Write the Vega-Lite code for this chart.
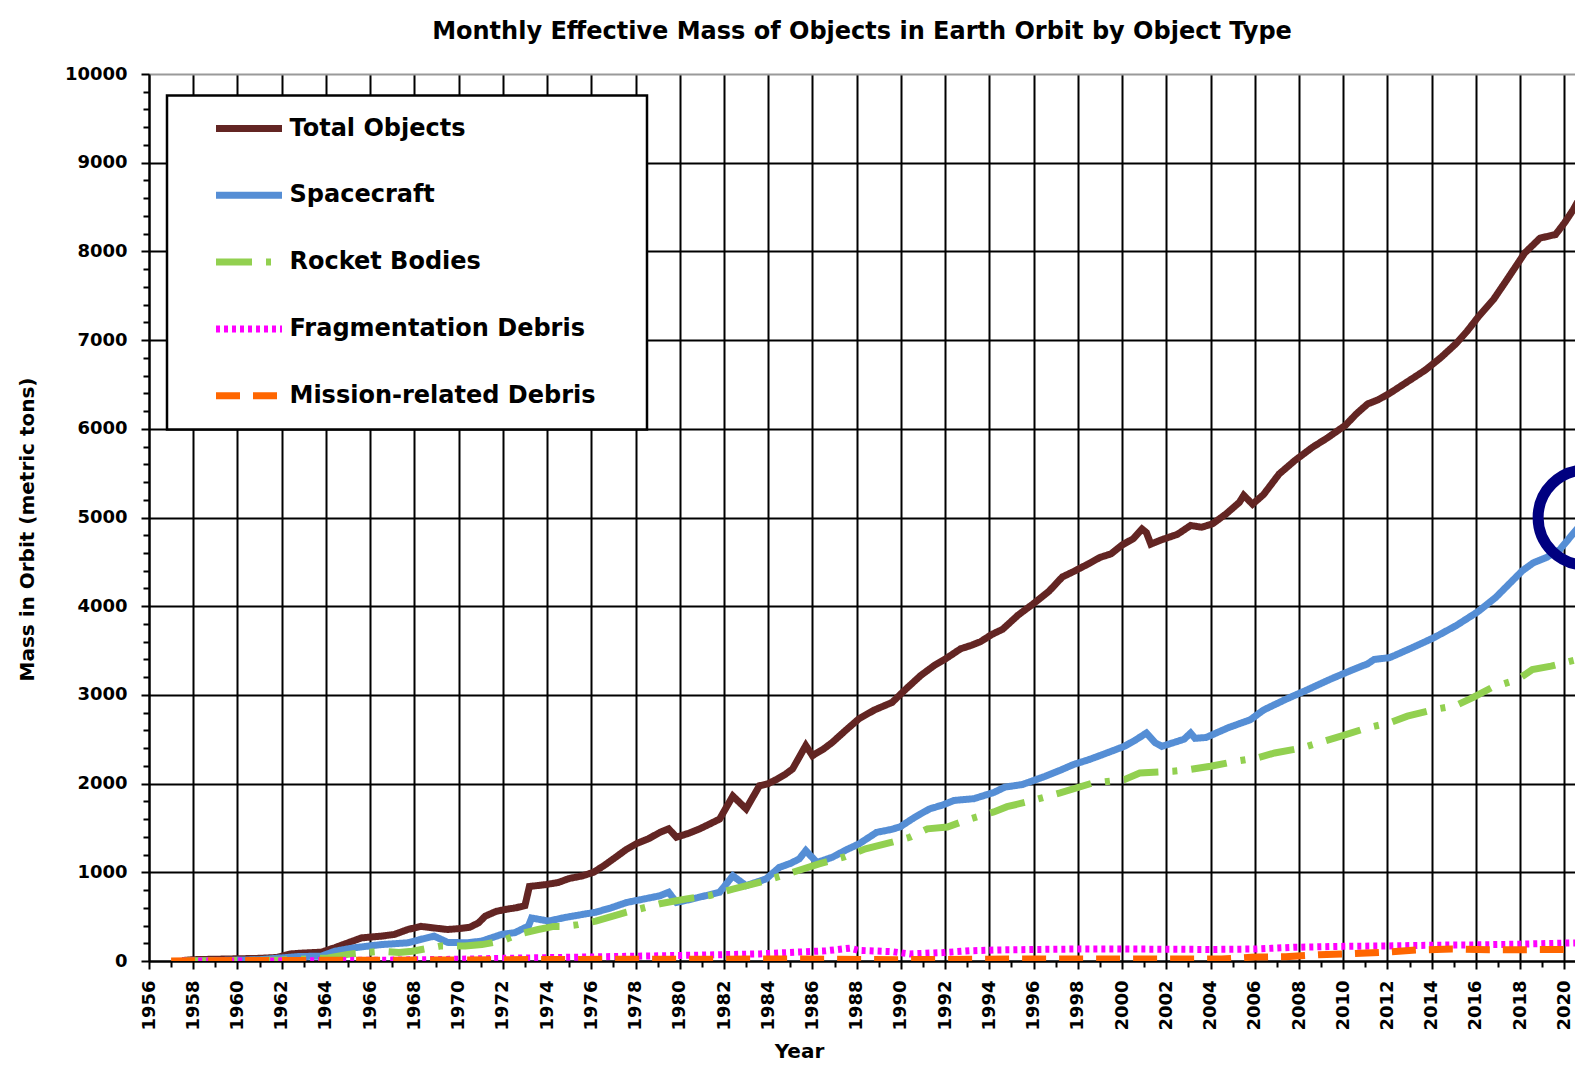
{
  "$schema": "https://vega.github.io/schema/vega-lite/v6.json",
  "width": 1426,
  "height": 887,
  "autosize": {"type": "none"},
  "padding": {"left": 149, "top": 74, "right": 0, "bottom": 113},
  "background": "white",
  "title": {
    "text": "Monthly Effective Mass of Objects in Earth Orbit by Object Type",
    "font": "DejaVu Sans", "fontSize": 24, "fontWeight": "bold", "color": "#000",
    "anchor": "middle", "frame": "group", "baseline": "alphabetic", "offset": 2
  },
  "config": {"view": {"stroke": null}, "font": "DejaVu Sans", "legend": {"strokeWidth": 2.5}},
  "layer": [
    {
      "data": {"values": [
        {"year": 1957.5, "mass": 5, "type": "Total Objects"},
        {"year": 1958, "mass": 15, "type": "Total Objects"},
        {"year": 1959, "mass": 20, "type": "Total Objects"},
        {"year": 1960, "mass": 25, "type": "Total Objects"},
        {"year": 1961, "mass": 30, "type": "Total Objects"},
        {"year": 1961.8, "mass": 40, "type": "Total Objects"},
        {"year": 1962.4, "mass": 80, "type": "Total Objects"},
        {"year": 1963.0, "mass": 90, "type": "Total Objects"},
        {"year": 1963.8, "mass": 100, "type": "Total Objects"},
        {"year": 1964.4, "mass": 150, "type": "Total Objects"},
        {"year": 1965.0, "mass": 205, "type": "Total Objects"},
        {"year": 1965.6, "mass": 260, "type": "Total Objects"},
        {"year": 1966.0, "mass": 270, "type": "Total Objects"},
        {"year": 1966.5, "mass": 280, "type": "Total Objects"},
        {"year": 1967.1, "mass": 300, "type": "Total Objects"},
        {"year": 1967.7, "mass": 355, "type": "Total Objects"},
        {"year": 1968.3, "mass": 390, "type": "Total Objects"},
        {"year": 1968.8, "mass": 375, "type": "Total Objects"},
        {"year": 1969.5, "mass": 355, "type": "Total Objects"},
        {"year": 1970.0, "mass": 365, "type": "Total Objects"},
        {"year": 1970.5, "mass": 380, "type": "Total Objects"},
        {"year": 1970.9, "mass": 430, "type": "Total Objects"},
        {"year": 1971.2, "mass": 505, "type": "Total Objects"},
        {"year": 1971.7, "mass": 560, "type": "Total Objects"},
        {"year": 1972.2, "mass": 585, "type": "Total Objects"},
        {"year": 1972.6, "mass": 600, "type": "Total Objects"},
        {"year": 1973.0, "mass": 625, "type": "Total Objects"},
        {"year": 1973.2, "mass": 840, "type": "Total Objects"},
        {"year": 1973.9, "mass": 860, "type": "Total Objects"},
        {"year": 1974.5, "mass": 885, "type": "Total Objects"},
        {"year": 1975.0, "mass": 930, "type": "Total Objects"},
        {"year": 1975.6, "mass": 960, "type": "Total Objects"},
        {"year": 1976.1, "mass": 1000, "type": "Total Objects"},
        {"year": 1976.6, "mass": 1080, "type": "Total Objects"},
        {"year": 1977.1, "mass": 1170, "type": "Total Objects"},
        {"year": 1977.6, "mass": 1260, "type": "Total Objects"},
        {"year": 1978.1, "mass": 1330, "type": "Total Objects"},
        {"year": 1978.6, "mass": 1380, "type": "Total Objects"},
        {"year": 1979.1, "mass": 1450, "type": "Total Objects"},
        {"year": 1979.5, "mass": 1490, "type": "Total Objects"},
        {"year": 1979.85, "mass": 1395, "type": "Total Objects"},
        {"year": 1980.4, "mass": 1440, "type": "Total Objects"},
        {"year": 1980.9, "mass": 1490, "type": "Total Objects"},
        {"year": 1981.4, "mass": 1550, "type": "Total Objects"},
        {"year": 1981.8, "mass": 1600, "type": "Total Objects"},
        {"year": 1982.4, "mass": 1860, "type": "Total Objects"},
        {"year": 1983.0, "mass": 1715, "type": "Total Objects"},
        {"year": 1983.6, "mass": 1975, "type": "Total Objects"},
        {"year": 1984.0, "mass": 2000, "type": "Total Objects"},
        {"year": 1984.4, "mass": 2050, "type": "Total Objects"},
        {"year": 1984.8, "mass": 2110, "type": "Total Objects"},
        {"year": 1985.1, "mass": 2165, "type": "Total Objects"},
        {"year": 1985.7, "mass": 2430, "type": "Total Objects"},
        {"year": 1986.0, "mass": 2315, "type": "Total Objects"},
        {"year": 1986.5, "mass": 2390, "type": "Total Objects"},
        {"year": 1986.9, "mass": 2465, "type": "Total Objects"},
        {"year": 1987.5, "mass": 2600, "type": "Total Objects"},
        {"year": 1988.1, "mass": 2730, "type": "Total Objects"},
        {"year": 1988.8, "mass": 2830, "type": "Total Objects"},
        {"year": 1989.6, "mass": 2915, "type": "Total Objects"},
        {"year": 1990.2, "mass": 3060, "type": "Total Objects"},
        {"year": 1990.9, "mass": 3220, "type": "Total Objects"},
        {"year": 1991.5, "mass": 3330, "type": "Total Objects"},
        {"year": 1992.1, "mass": 3420, "type": "Total Objects"},
        {"year": 1992.7, "mass": 3520, "type": "Total Objects"},
        {"year": 1993.2, "mass": 3560, "type": "Total Objects"},
        {"year": 1993.6, "mass": 3600, "type": "Total Objects"},
        {"year": 1994.1, "mass": 3680, "type": "Total Objects"},
        {"year": 1994.6, "mass": 3740, "type": "Total Objects"},
        {"year": 1995.3, "mass": 3900, "type": "Total Objects"},
        {"year": 1996.0, "mass": 4030, "type": "Total Objects"},
        {"year": 1996.7, "mass": 4170, "type": "Total Objects"},
        {"year": 1997.3, "mass": 4330, "type": "Total Objects"},
        {"year": 1997.8, "mass": 4390, "type": "Total Objects"},
        {"year": 1998.5, "mass": 4480, "type": "Total Objects"},
        {"year": 1999.0, "mass": 4550, "type": "Total Objects"},
        {"year": 1999.5, "mass": 4590, "type": "Total Objects"},
        {"year": 2000.0, "mass": 4690, "type": "Total Objects"},
        {"year": 2000.5, "mass": 4760, "type": "Total Objects"},
        {"year": 2000.9, "mass": 4870, "type": "Total Objects"},
        {"year": 2001.1, "mass": 4830, "type": "Total Objects"},
        {"year": 2001.3, "mass": 4700, "type": "Total Objects"},
        {"year": 2001.8, "mass": 4750, "type": "Total Objects"},
        {"year": 2002.5, "mass": 4810, "type": "Total Objects"},
        {"year": 2003.1, "mass": 4910, "type": "Total Objects"},
        {"year": 2003.6, "mass": 4890, "type": "Total Objects"},
        {"year": 2004.1, "mass": 4930, "type": "Total Objects"},
        {"year": 2004.7, "mass": 5040, "type": "Total Objects"},
        {"year": 2005.3, "mass": 5170, "type": "Total Objects"},
        {"year": 2005.5, "mass": 5250, "type": "Total Objects"},
        {"year": 2005.9, "mass": 5150, "type": "Total Objects"},
        {"year": 2006.4, "mass": 5260, "type": "Total Objects"},
        {"year": 2007.1, "mass": 5490, "type": "Total Objects"},
        {"year": 2007.8, "mass": 5640, "type": "Total Objects"},
        {"year": 2008.6, "mass": 5790, "type": "Total Objects"},
        {"year": 2009.3, "mass": 5900, "type": "Total Objects"},
        {"year": 2010.1, "mass": 6040, "type": "Total Objects"},
        {"year": 2010.6, "mass": 6170, "type": "Total Objects"},
        {"year": 2011.1, "mass": 6280, "type": "Total Objects"},
        {"year": 2011.6, "mass": 6330, "type": "Total Objects"},
        {"year": 2012.1, "mass": 6400, "type": "Total Objects"},
        {"year": 2012.9, "mass": 6530, "type": "Total Objects"},
        {"year": 2013.7, "mass": 6660, "type": "Total Objects"},
        {"year": 2014.4, "mass": 6800, "type": "Total Objects"},
        {"year": 2015.1, "mass": 6960, "type": "Total Objects"},
        {"year": 2015.6, "mass": 7100, "type": "Total Objects"},
        {"year": 2016.1, "mass": 7260, "type": "Total Objects"},
        {"year": 2016.8, "mass": 7460, "type": "Total Objects"},
        {"year": 2017.4, "mass": 7680, "type": "Total Objects"},
        {"year": 2017.8, "mass": 7830, "type": "Total Objects"},
        {"year": 2018.2, "mass": 7980, "type": "Total Objects"},
        {"year": 2018.9, "mass": 8150, "type": "Total Objects"},
        {"year": 2019.6, "mass": 8190, "type": "Total Objects"},
        {"year": 2020.0, "mass": 8320, "type": "Total Objects"},
        {"year": 2020.4, "mass": 8470, "type": "Total Objects"},
        {"year": 2020.6, "mass": 8560, "type": "Total Objects"},

        {"year": 1957.5, "mass": 0, "type": "Spacecraft"},
        {"year": 1959, "mass": 5, "type": "Spacecraft"},
        {"year": 1961, "mass": 15, "type": "Spacecraft"},
        {"year": 1962.75, "mass": 50, "type": "Spacecraft"},
        {"year": 1963.8, "mass": 55, "type": "Spacecraft"},
        {"year": 1964.4, "mass": 110, "type": "Spacecraft"},
        {"year": 1965.3, "mass": 150, "type": "Spacecraft"},
        {"year": 1966.5, "mass": 185, "type": "Spacecraft"},
        {"year": 1967.7, "mass": 205, "type": "Spacecraft"},
        {"year": 1968.3, "mass": 245, "type": "Spacecraft"},
        {"year": 1968.9, "mass": 280, "type": "Spacecraft"},
        {"year": 1969.5, "mass": 210, "type": "Spacecraft"},
        {"year": 1970.4, "mass": 205, "type": "Spacecraft"},
        {"year": 1971.05, "mass": 225, "type": "Spacecraft"},
        {"year": 1971.95, "mass": 300, "type": "Spacecraft"},
        {"year": 1972.55, "mass": 320, "type": "Spacecraft"},
        {"year": 1973.16, "mass": 395, "type": "Spacecraft"},
        {"year": 1973.3, "mass": 485, "type": "Spacecraft"},
        {"year": 1974.06, "mass": 450, "type": "Spacecraft"},
        {"year": 1974.8, "mass": 490, "type": "Spacecraft"},
        {"year": 1975.6, "mass": 525, "type": "Spacecraft"},
        {"year": 1976.2, "mass": 550, "type": "Spacecraft"},
        {"year": 1976.9, "mass": 600, "type": "Spacecraft"},
        {"year": 1977.6, "mass": 660, "type": "Spacecraft"},
        {"year": 1978.4, "mass": 700, "type": "Spacecraft"},
        {"year": 1979.1, "mass": 735, "type": "Spacecraft"},
        {"year": 1979.5, "mass": 775, "type": "Spacecraft"},
        {"year": 1979.85, "mass": 660, "type": "Spacecraft"},
        {"year": 1980.4, "mass": 690, "type": "Spacecraft"},
        {"year": 1980.9, "mass": 720, "type": "Spacecraft"},
        {"year": 1981.8, "mass": 775, "type": "Spacecraft"},
        {"year": 1982.4, "mass": 960, "type": "Spacecraft"},
        {"year": 1983.0, "mass": 850, "type": "Spacecraft"},
        {"year": 1983.9, "mass": 925, "type": "Spacecraft"},
        {"year": 1984.5, "mass": 1055, "type": "Spacecraft"},
        {"year": 1985.0, "mass": 1100, "type": "Spacecraft"},
        {"year": 1985.4, "mass": 1150, "type": "Spacecraft"},
        {"year": 1985.7, "mass": 1245, "type": "Spacecraft"},
        {"year": 1986.2, "mass": 1110, "type": "Spacecraft"},
        {"year": 1986.9, "mass": 1170, "type": "Spacecraft"},
        {"year": 1987.5, "mass": 1250, "type": "Spacecraft"},
        {"year": 1988.1, "mass": 1320, "type": "Spacecraft"},
        {"year": 1988.9, "mass": 1450, "type": "Spacecraft"},
        {"year": 1989.5, "mass": 1480, "type": "Spacecraft"},
        {"year": 1989.95, "mass": 1510, "type": "Spacecraft"},
        {"year": 1990.5, "mass": 1600, "type": "Spacecraft"},
        {"year": 1990.9, "mass": 1660, "type": "Spacecraft"},
        {"year": 1991.3, "mass": 1715, "type": "Spacecraft"},
        {"year": 1991.9, "mass": 1760, "type": "Spacecraft"},
        {"year": 1992.4, "mass": 1810, "type": "Spacecraft"},
        {"year": 1993.3, "mass": 1830, "type": "Spacecraft"},
        {"year": 1994.2, "mass": 1900, "type": "Spacecraft"},
        {"year": 1994.7, "mass": 1960, "type": "Spacecraft"},
        {"year": 1995.5, "mass": 1990, "type": "Spacecraft"},
        {"year": 1996.5, "mass": 2080, "type": "Spacecraft"},
        {"year": 1997.2, "mass": 2150, "type": "Spacecraft"},
        {"year": 1997.8, "mass": 2215, "type": "Spacecraft"},
        {"year": 1998.5, "mass": 2270, "type": "Spacecraft"},
        {"year": 1999.15, "mass": 2330, "type": "Spacecraft"},
        {"year": 2000.1, "mass": 2420, "type": "Spacecraft"},
        {"year": 2000.6, "mass": 2490, "type": "Spacecraft"},
        {"year": 2001.1, "mass": 2570, "type": "Spacecraft"},
        {"year": 2001.5, "mass": 2460, "type": "Spacecraft"},
        {"year": 2001.8, "mass": 2420, "type": "Spacecraft"},
        {"year": 2002.3, "mass": 2460, "type": "Spacecraft"},
        {"year": 2002.8, "mass": 2500, "type": "Spacecraft"},
        {"year": 2003.1, "mass": 2570, "type": "Spacecraft"},
        {"year": 2003.3, "mass": 2510, "type": "Spacecraft"},
        {"year": 2003.8, "mass": 2520, "type": "Spacecraft"},
        {"year": 2004.8, "mass": 2630, "type": "Spacecraft"},
        {"year": 2005.8, "mass": 2720, "type": "Spacecraft"},
        {"year": 2006.4, "mass": 2830, "type": "Spacecraft"},
        {"year": 2007.4, "mass": 2950, "type": "Spacecraft"},
        {"year": 2008.4, "mass": 3060, "type": "Spacecraft"},
        {"year": 2009.4, "mass": 3175, "type": "Spacecraft"},
        {"year": 2010.3, "mass": 3270, "type": "Spacecraft"},
        {"year": 2011.1, "mass": 3350, "type": "Spacecraft"},
        {"year": 2011.4, "mass": 3400, "type": "Spacecraft"},
        {"year": 2012.1, "mass": 3420, "type": "Spacecraft"},
        {"year": 2013.1, "mass": 3530, "type": "Spacecraft"},
        {"year": 2014.1, "mass": 3645, "type": "Spacecraft"},
        {"year": 2015.1, "mass": 3780, "type": "Spacecraft"},
        {"year": 2016.1, "mass": 3940, "type": "Spacecraft"},
        {"year": 2016.9, "mass": 4100, "type": "Spacecraft"},
        {"year": 2017.5, "mass": 4250, "type": "Spacecraft"},
        {"year": 2018.1, "mass": 4400, "type": "Spacecraft"},
        {"year": 2018.6, "mass": 4490, "type": "Spacecraft"},
        {"year": 2019.2, "mass": 4550, "type": "Spacecraft"},
        {"year": 2019.8, "mass": 4640, "type": "Spacecraft"},
        {"year": 2020.2, "mass": 4760, "type": "Spacecraft"},
        {"year": 2020.6, "mass": 4880, "type": "Spacecraft"},

        {"year": 1957.5, "mass": 0, "type": "Rocket Bodies"},
        {"year": 1960, "mass": 5, "type": "Rocket Bodies"},
        {"year": 1962, "mass": 10, "type": "Rocket Bodies"},
        {"year": 1964.1, "mass": 35, "type": "Rocket Bodies"},
        {"year": 1965.0, "mass": 75, "type": "Rocket Bodies"},
        {"year": 1965.8, "mass": 95, "type": "Rocket Bodies"},
        {"year": 1966.5, "mass": 110, "type": "Rocket Bodies"},
        {"year": 1967.3, "mass": 95, "type": "Rocket Bodies"},
        {"year": 1967.9, "mass": 110, "type": "Rocket Bodies"},
        {"year": 1969.2, "mass": 170, "type": "Rocket Bodies"},
        {"year": 1970.3, "mass": 170, "type": "Rocket Bodies"},
        {"year": 1971.05, "mass": 185, "type": "Rocket Bodies"},
        {"year": 1971.95, "mass": 225, "type": "Rocket Bodies"},
        {"year": 1972.7, "mass": 300, "type": "Rocket Bodies"},
        {"year": 1973.6, "mass": 355, "type": "Rocket Bodies"},
        {"year": 1974.3, "mass": 390, "type": "Rocket Bodies"},
        {"year": 1974.7, "mass": 390, "type": "Rocket Bodies"},
        {"year": 1975.4, "mass": 410, "type": "Rocket Bodies"},
        {"year": 1976.2, "mass": 450, "type": "Rocket Bodies"},
        {"year": 1977.6, "mass": 550, "type": "Rocket Bodies"},
        {"year": 1979.1, "mass": 645, "type": "Rocket Bodies"},
        {"year": 1980.3, "mass": 700, "type": "Rocket Bodies"},
        {"year": 1981.4, "mass": 740, "type": "Rocket Bodies"},
        {"year": 1982.4, "mass": 810, "type": "Rocket Bodies"},
        {"year": 1983.6, "mass": 885, "type": "Rocket Bodies"},
        {"year": 1985.1, "mass": 1000, "type": "Rocket Bodies"},
        {"year": 1986.3, "mass": 1095, "type": "Rocket Bodies"},
        {"year": 1987.4, "mass": 1170, "type": "Rocket Bodies"},
        {"year": 1988.4, "mass": 1265, "type": "Rocket Bodies"},
        {"year": 1989.6, "mass": 1340, "type": "Rocket Bodies"},
        {"year": 1990.4, "mass": 1395, "type": "Rocket Bodies"},
        {"year": 1991.2, "mass": 1490, "type": "Rocket Bodies"},
        {"year": 1992.1, "mass": 1510, "type": "Rocket Bodies"},
        {"year": 1993.1, "mass": 1600, "type": "Rocket Bodies"},
        {"year": 1994.2, "mass": 1680, "type": "Rocket Bodies"},
        {"year": 1994.8, "mass": 1740, "type": "Rocket Bodies"},
        {"year": 1995.8, "mass": 1800, "type": "Rocket Bodies"},
        {"year": 1997.2, "mass": 1895, "type": "Rocket Bodies"},
        {"year": 1998.65, "mass": 2005, "type": "Rocket Bodies"},
        {"year": 2000.1, "mass": 2045, "type": "Rocket Bodies"},
        {"year": 2000.8, "mass": 2120, "type": "Rocket Bodies"},
        {"year": 2002.3, "mass": 2140, "type": "Rocket Bodies"},
        {"year": 2003.1, "mass": 2160, "type": "Rocket Bodies"},
        {"year": 2004.0, "mass": 2195, "type": "Rocket Bodies"},
        {"year": 2005.1, "mass": 2250, "type": "Rocket Bodies"},
        {"year": 2006.1, "mass": 2290, "type": "Rocket Bodies"},
        {"year": 2006.9, "mass": 2345, "type": "Rocket Bodies"},
        {"year": 2008.1, "mass": 2400, "type": "Rocket Bodies"},
        {"year": 2009.1, "mass": 2475, "type": "Rocket Bodies"},
        {"year": 2009.9, "mass": 2535, "type": "Rocket Bodies"},
        {"year": 2011.1, "mass": 2630, "type": "Rocket Bodies"},
        {"year": 2012.1, "mass": 2685, "type": "Rocket Bodies"},
        {"year": 2012.9, "mass": 2760, "type": "Rocket Bodies"},
        {"year": 2014.1, "mass": 2835, "type": "Rocket Bodies"},
        {"year": 2015.1, "mass": 2880, "type": "Rocket Bodies"},
        {"year": 2015.9, "mass": 2975, "type": "Rocket Bodies"},
        {"year": 2016.7, "mass": 3080, "type": "Rocket Bodies"},
        {"year": 2017.9, "mass": 3175, "type": "Rocket Bodies"},
        {"year": 2018.55, "mass": 3285, "type": "Rocket Bodies"},
        {"year": 2019.4, "mass": 3325, "type": "Rocket Bodies"},
        {"year": 2020.6, "mass": 3400, "type": "Rocket Bodies"},

        {"year": 1957.5, "mass": 0, "type": "Fragmentation Debris"},
        {"year": 1961, "mass": 0, "type": "Fragmentation Debris"},
        {"year": 1964, "mass": 5, "type": "Fragmentation Debris"},
        {"year": 1967, "mass": 10, "type": "Fragmentation Debris"},
        {"year": 1970, "mass": 20, "type": "Fragmentation Debris"},
        {"year": 1972, "mass": 30, "type": "Fragmentation Debris"},
        {"year": 1974.6, "mass": 40, "type": "Fragmentation Debris"},
        {"year": 1977, "mass": 50, "type": "Fragmentation Debris"},
        {"year": 1980.6, "mass": 65, "type": "Fragmentation Debris"},
        {"year": 1983.6, "mass": 80, "type": "Fragmentation Debris"},
        {"year": 1986.6, "mass": 115, "type": "Fragmentation Debris"},
        {"year": 1987.7, "mass": 145, "type": "Fragmentation Debris"},
        {"year": 1988.1, "mass": 120, "type": "Fragmentation Debris"},
        {"year": 1989.6, "mass": 105, "type": "Fragmentation Debris"},
        {"year": 1990.4, "mass": 80, "type": "Fragmentation Debris"},
        {"year": 1991.9, "mass": 95, "type": "Fragmentation Debris"},
        {"year": 1993.1, "mass": 115, "type": "Fragmentation Debris"},
        {"year": 1994.5, "mass": 125, "type": "Fragmentation Debris"},
        {"year": 1996, "mass": 130, "type": "Fragmentation Debris"},
        {"year": 1998, "mass": 135, "type": "Fragmentation Debris"},
        {"year": 2000, "mass": 135, "type": "Fragmentation Debris"},
        {"year": 2002, "mass": 133, "type": "Fragmentation Debris"},
        {"year": 2004, "mass": 130, "type": "Fragmentation Debris"},
        {"year": 2006, "mass": 135, "type": "Fragmentation Debris"},
        {"year": 2007.8, "mass": 155, "type": "Fragmentation Debris"},
        {"year": 2010, "mass": 165, "type": "Fragmentation Debris"},
        {"year": 2012, "mass": 170, "type": "Fragmentation Debris"},
        {"year": 2014, "mass": 178, "type": "Fragmentation Debris"},
        {"year": 2016, "mass": 182, "type": "Fragmentation Debris"},
        {"year": 2018, "mass": 190, "type": "Fragmentation Debris"},
        {"year": 2020.6, "mass": 205, "type": "Fragmentation Debris"},

        {"year": 1957.0, "mass": 0, "type": "Mission-related Debris"},
        {"year": 1960, "mass": 5, "type": "Mission-related Debris"},
        {"year": 1965, "mass": 8, "type": "Mission-related Debris"},
        {"year": 1970, "mass": 12, "type": "Mission-related Debris"},
        {"year": 1975, "mass": 18, "type": "Mission-related Debris"},
        {"year": 1980, "mass": 20, "type": "Mission-related Debris"},
        {"year": 1985, "mass": 22, "type": "Mission-related Debris"},
        {"year": 1990, "mass": 15, "type": "Mission-related Debris"},
        {"year": 1995, "mass": 22, "type": "Mission-related Debris"},
        {"year": 2000, "mass": 22, "type": "Mission-related Debris"},
        {"year": 2004.5, "mass": 22, "type": "Mission-related Debris"},
        {"year": 2006.0, "mass": 45, "type": "Mission-related Debris"},
        {"year": 2007.4, "mass": 48, "type": "Mission-related Debris"},
        {"year": 2008.9, "mass": 70, "type": "Mission-related Debris"},
        {"year": 2010.4, "mass": 82, "type": "Mission-related Debris"},
        {"year": 2011.9, "mass": 100, "type": "Mission-related Debris"},
        {"year": 2013.4, "mass": 125, "type": "Mission-related Debris"},
        {"year": 2014.9, "mass": 135, "type": "Mission-related Debris"},
        {"year": 2016.6, "mass": 128, "type": "Mission-related Debris"},
        {"year": 2018.1, "mass": 128, "type": "Mission-related Debris"},
        {"year": 2020.6, "mass": 130, "type": "Mission-related Debris"}
      ]},
      "mark": {"type": "line", "strokeWidth": 7, "strokeCap": "butt", "strokeJoin": "miter", "clip": true},
      "encoding": {
        "x": {
          "field": "year", "type": "quantitative",
          "scale": {"domain": [1956, 2020.48], "nice": false, "zero": false},
          "axis": {
            "orient": "bottom",
            "values": [1956,1958,1960,1962,1964,1966,1968,1970,1972,1974,1976,1978,1980,1982,1984,1986,1988,1990,1992,1994,1996,1998,2000,2002,2004,2006,2008,2010,2012,2014,2016,2018,2020],
            "format": "d",
            "title": "Year", "titleFont": "DejaVu Sans", "titleFontSize": 20, "titleFontWeight": "bold", "titleColor": "#000",
            "titleX": 650, "titleY": 90, "titleBaseline": "middle", "titleAlign": "center",
            "labelAngle": 270, "labelFont": "DejaVu Sans", "labelFontSize": 18, "labelFontWeight": "bold", "labelColor": "#000",
            "labelPadding": 11, "labelOverlap": false, "labelFlush": false, "labelBound": false,
            "tickSize": 8, "tickWidth": 2, "tickColor": "#000",
            "domainColor": "#000", "domainWidth": 2,
            "grid": true, "gridColor": "#000", "gridWidth": 2, "gridOpacity": 1
          }
        },
        "y": {
          "field": "mass", "type": "quantitative",
          "scale": {"domain": [0, 10000], "nice": false},
          "axis": {
            "orient": "left",
            "values": [0,1000,2000,3000,4000,5000,6000,7000,8000,9000,10000],
            "format": "d",
            "title": "Mass in Orbit (metric tons)", "titleFont": "DejaVu Sans", "titleFontSize": 20, "titleFontWeight": "bold", "titleColor": "#000",
            "titleX": -122, "titleY": 455, "titleAngle": 270, "titleBaseline": "middle", "titleAlign": "center",
            "labelFont": "DejaVu Sans", "labelFontSize": 18, "labelFontWeight": "bold", "labelColor": "#000",
            "labelPadding": 14, "labelOverlap": false, "labelFlush": false, "labelBound": false,
            "tickSize": 8, "tickWidth": 2, "tickColor": "#000",
            "domainColor": "#000", "domainWidth": 2,
            "grid": true,
            "gridColor": {"condition": {"test": "datum.value == 10000", "value": "#9a9a9a"}, "value": "#000"},
            "gridWidth": 2, "gridOpacity": 1
          }
        },
        "color": {
          "field": "type", "type": "nominal",
          "scale": {
            "domain": ["Total Objects", "Spacecraft", "Rocket Bodies", "Fragmentation Debris", "Mission-related Debris"],
            "range": ["#632523", "#558ED5", "#92D050", "#FF00FF", "#FF6600"]
          },
          "legend": {
            "title": "\u00a0", "titleOrient": "right", "titleFontSize": 10, "titlePadding": 34,
            "orient": "none", "legendX": 18, "legendY": 21.5, "direction": "vertical",
            "symbolType": "stroke", "symbolSize": 4356, "symbolStrokeWidth": 7, "symbolOffset": 27.5,
            "labelOffset": 4, "labelFont": "DejaVu Sans", "labelFontSize": 24, "labelFontWeight": "bold", "labelColor": "#000", "labelLimit": 0,
            "clipHeight": 30, "rowPadding": 36.8,
            "padding": 18, "strokeColor": "#000", "fillColor": "#ffffff"
          }
        },
        "strokeDash": {
          "field": "type", "type": "nominal",
          "scale": {
            "domain": ["Total Objects", "Spacecraft", "Rocket Bodies", "Fragmentation Debris", "Mission-related Debris"],
            "range": [[1, 0], [1, 0], [36, 14, 5, 14], [4, 4], [24, 13]]
          }
        }
      }
    },
    {
      "data": {"values": [{"year": 2020.96, "mass": 5000}]},
      "mark": {"type": "point", "shape": "circle", "filled": false, "size": 9025, "strokeWidth": 11, "color": "#000080", "opacity": 1, "clip": true},
      "encoding": {
        "x": {
          "field": "year", "type": "quantitative",
          "scale": {"domain": [1956, 2020.48], "nice": false, "zero": false},
          "axis": {
            "orient": "bottom",
            "values": [1957,1959,1961,1963,1965,1967,1969,1971,1973,1975,1977,1979,1981,1983,1985,1987,1989,1991,1993,1995,1997,1999,2001,2003,2005,2007,2009,2011,2013,2015,2017,2019],
            "labels": false, "grid": false, "domain": false, "title": null,
            "tickSize": 6, "tickWidth": 2, "tickColor": "#000"
          }
        },
        "y": {
          "field": "mass", "type": "quantitative",
          "scale": {"domain": [0, 10000], "nice": false},
          "axis": {
            "orient": "left",
            "values": [200,400,600,800,1200,1400,1600,1800,2200,2400,2600,2800,3200,3400,3600,3800,4200,4400,4600,4800,5200,5400,5600,5800,6200,6400,6600,6800,7200,7400,7600,7800,8200,8400,8600,8800,9200,9400,9600,9800],
            "labels": false, "grid": false, "domain": false, "title": null,
            "tickSize": 6, "tickWidth": 2, "tickColor": "#000"
          }
        }
      }
    }
  ],
  "resolve": {"axis": {"x": "independent", "y": "independent"}}
}
